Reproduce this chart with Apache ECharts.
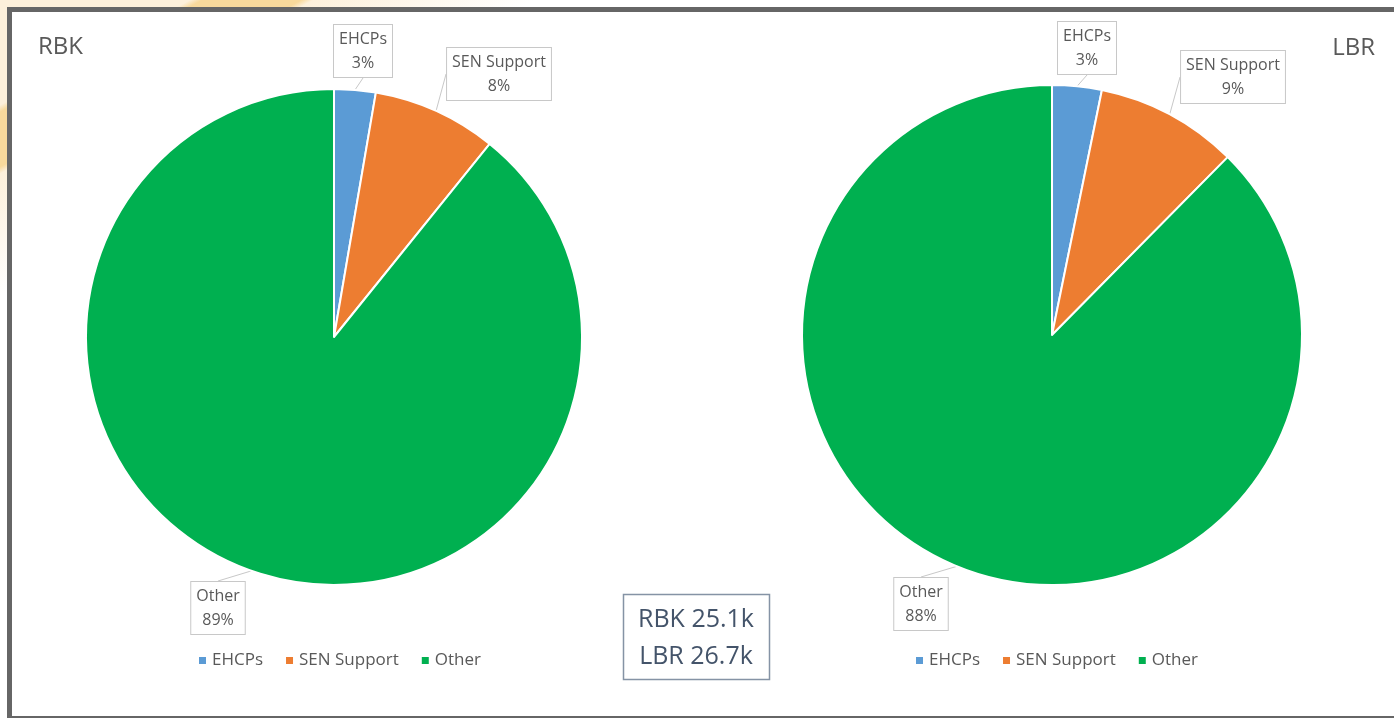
<!DOCTYPE html>
<html><head><meta charset="utf-8">
<script src="https://cdn.jsdelivr.net/npm/echarts@6/dist/echarts.min.js"></script>
<style>
html,body{margin:0;padding:0;width:1394px;height:718px;overflow:hidden;
background:linear-gradient(151deg,#fdf0db 0px,#fdf0db 92px,#f8d99c 98px,#f8d99c 146px,#fdf0db 152px,#fff 260px);}
#c{width:1394px;height:718px;}
</style></head><body><div id="c"></div>
<script>
const categories = ['EHCPs', 'SEN Support', 'Other'];
const rbkValues = [2.7, 8.1, 89.2];
const lbrValues = [3.2, 9.2, 87.6];
const colors = ['#5b9bd5', '#ed7d31', '#00b050'];
const boxLines = ['RBK 25.1k', 'LBR 26.7k'];
const titles = ['RBK', 'LBR'];

// callout box centres (layout only)
const rbkLabelPos = [[363, 51], [499, 74], [218, 608]];
const lbrLabelPos = [[1087, 48], [1233, 77], [921, 604]];

const FONT = '"Open Sans", "Noto Sans", sans-serif';
const chart = echarts.init(document.getElementById('c'));

function pieSeries(name, vals, center, radius, labelPos) {
  return {
    type: 'pie', name: name, center: center, radius: radius,
    startAngle: 90, clockwise: true,
    data: categories.map((c, i) => ({ name: c, value: vals[i], itemStyle: { color: colors[i] } })),
    itemStyle: { borderColor: '#fff', borderWidth: 2 },
    emphasis: { disabled: true },
    label: {
      show: true, position: 'outside',
      formatter: p => '{a|' + p.name + '}\n{a|' + Math.round(p.percent) + '%}',
      rich: { a: { color: '#595959', fontFamily: FONT, fontSize: 16, lineHeight: 24, align: 'center' } },
      backgroundColor: '#fff', borderColor: '#c8c8c8', borderWidth: 1,
      padding: [2, 5, 2, 5]
    },
    labelLayout: p => ({ x: labelPos[p.dataIndex][0], y: labelPos[p.dataIndex][1], align: 'center', verticalAlign: 'middle' }),
    labelLine: { show: true, length: 10, length2: 0, lineStyle: { color: '#c8c8c8', width: 1 } },
    animation: false
  };
}

const legendCommon = {
  icon: 'rect', itemWidth: 9, itemHeight: 9, itemGap: 21, padding: 0,
  textStyle: { color: '#595959', fontFamily: FONT, fontSize: 17 },
  data: categories, selectedMode: false
};

chart.setOption({
  backgroundColor: 'transparent',
  color: colors,
  title: [
    { text: titles[0], left: 33, top: 30, textStyle: { color: '#595959', fontFamily: FONT, fontSize: 24, fontWeight: 'normal' } },
    { text: titles[1], right: 14, top: 31, textStyle: { color: '#595959', fontFamily: FONT, fontSize: 24, fontWeight: 'normal' } }
  ],
  legend: [
    Object.assign({ left: 197, top: 652 }, legendCommon),
    Object.assign({ left: 914, top: 652 }, legendCommon)
  ],
  graphic: [
    { type: 'rect', shape: { x: 9.5, y: 9.5, width: 1500, height: 709 }, style: { fill: '#fff', stroke: '#666', lineWidth: 5 }, z: -10, silent: true },
    { type: 'rect', shape: { x: 623.5, y: 594.5, width: 146, height: 85 }, style: { fill: '#fff', stroke: '#8593a5', lineWidth: 1.5 }, z: 5 },
    { type: 'text', x: 696, y: 638, style: { text: boxLines.join('\n'), fill: '#44546a', font: '25px ' + FONT, align: 'center', verticalAlign: 'middle', lineHeight: 37 }, z: 6 }
  ],
  series: [
    pieSeries('RBK', rbkValues, [334, 337], 248, rbkLabelPos),
    pieSeries('LBR', lbrValues, [1052, 335], 250, lbrLabelPos)
  ]
});
</script></body></html>
